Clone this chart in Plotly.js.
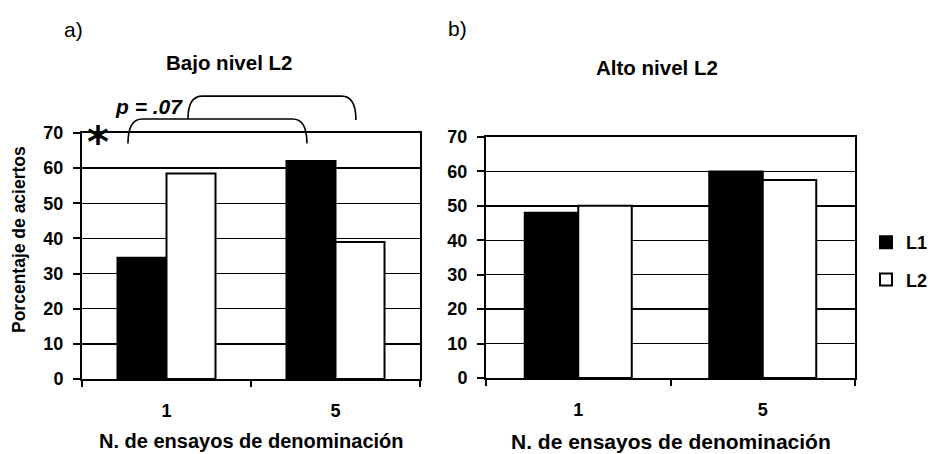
<!DOCTYPE html>
<html>
<head>
<meta charset="utf-8">
<script src="https://cdn.plot.ly/plotly-3.0.1.min.js"></script>
<style>
  html, body { margin: 0; padding: 0; background: #fff; }
  #chart { width: 930px; height: 454px; }
</style>
</head>
<body>
<div id="chart"></div>
<script>
// Naming trials (x categories)
const trials = ['1', '5'];

// Percentage correct, low-L2-proficiency group (panel a)
const lowL1 = [34.5, 62];
const lowL2 = [58.5, 39];

// Percentage correct, high-L2-proficiency group (panel b)
const highL1 = [48, 60];
const highL2 = [50, 57.5];

const seriesNames = ['L1', 'L2'];
const yTicks = [0, 10, 20, 30, 40, 50, 60, 70];

// Significance brackets over panel a: [x start, x end, y low start, y top, y low end]
const brackets = [
  [-0.228, 0.831, 67, 74, 67],
  [0.127, 1.121, 74, 80.5, 73.7]
];

const FONT = 'Liberation Sans, Arial, sans-serif';
const xIdx = trials.map((_, i) => i);
const yMax = yTicks[yTicks.length - 1];

function barTrace(vals, name, xa, ya, filled, show) {
  return {
    type: 'bar', x: xIdx, y: vals, name: name,
    xaxis: xa, yaxis: ya, showlegend: show,
    legendgroup: name,
    marker: { color: filled ? '#000' : '#fff', line: { color: '#000', width: 2 } },
    hoverinfo: 'y'
  };
}

const data = [
  barTrace(lowL1, seriesNames[0], 'x', 'y', true, true),
  barTrace(lowL2, seriesNames[1], 'x', 'y', false, true),
  barTrace(highL1, seriesNames[0], 'x2', 'y2', true, false),
  barTrace(highL2, seriesNames[1], 'x2', 'y2', false, false)
];

const tickFont = { family: FONT, size: 18, color: '#000', weight: 'bold' };

function xAxis(domain, anchor) {
  return {
    domain: domain, anchor: anchor,
    range: [-0.5, trials.length - 0.5],
    tickmode: 'array', tickvals: xIdx, ticktext: trials,
    ticks: '', ticklabelstandoff: 14,
    minor: { tickmode: 'linear', tick0: -0.5, dtick: 1, ticks: 'outside', ticklen: 6, tickwidth: 2, tickcolor: '#000', showgrid: false },
    showline: true, linewidth: 2, linecolor: '#000', mirror: true,
    showgrid: false, zeroline: false, fixedrange: true,
    tickfont: tickFont
  };
}
function yAxis(domain, anchor) {
  return {
    domain: domain, anchor: anchor,
    range: [0, yMax],
    tickmode: 'array', tickvals: yTicks,
    ticks: 'outside', ticklen: 7, tickwidth: 2, tickcolor: '#000',
    ticklabelstandoff: 6,
    showline: true, linewidth: 2, linecolor: '#000', mirror: true,
    showgrid: true, gridcolor: '#000', gridwidth: 1.5,
    zeroline: false, fixedrange: true,
    tickfont: tickFont
  };
}

// Value on the y scale -> fraction of the y axis domain
const yFrac = v => v / yMax;

function bracketPath(b) {
  const [x0, x1, y0, yt, y1] = b;
  const r = 0.085;
  const d = v => yFrac(v).toFixed(4);
  return `M ${x0},${d(y0)} Q ${x0},${d(yt)} ${x0 + r},${d(yt)} L ${x1 - r},${d(yt)} Q ${x1},${d(yt)} ${x1},${d(y1)}`;
}

const shapes = brackets.map(b => ({
  type: 'path', xref: 'x', yref: 'y domain', path: bracketPath(b),
  line: { color: '#000', width: 1.6 }, fillcolor: 'rgba(0,0,0,0)'
}));

const panelFont = { family: FONT, size: 20.5, color: '#000', weight: 'bold' };

function paperText(text, px, py, font, extra) {
  return Object.assign({
    text: text, xref: 'paper', yref: 'paper', x: px / 930, y: 1 - py / 454,
    xanchor: 'center', yanchor: 'middle', showarrow: false, font: font
  }, extra || {});
}

const annotations = [
  paperText('a)', 73, 30, { family: FONT, size: 21, color: '#000' }),
  paperText('b)', 457, 28, { family: FONT, size: 21, color: '#000' }),
  paperText('Bajo nivel L2', 229, 63, panelFont),
  paperText('Alto nivel L2', 657, 67, panelFont),
  paperText('Porcentaje de aciertos', 19, 240, { family: FONT, size: 17.5, color: '#000', weight: 'bold' }, { textangle: -90 }),
  paperText('N. de ensayos de denominación', 251, 441, { family: FONT, size: 20, color: '#000', weight: 'bold' }),
  paperText('N. de ensayos de denominación', 671, 441, { family: FONT, size: 21, color: '#000', weight: 'bold' }),
  { text: 'p = .07', xref: 'x', yref: 'y domain', x: 0.109, y: yFrac(77.6), xanchor: 'right', yanchor: 'middle', showarrow: false,
    font: { family: FONT, size: 21, color: '#000', weight: 'bold', style: 'italic' } },
  { text: '*', xref: 'x', yref: 'y domain', x: -0.405, y: yFrac(67.4), xanchor: 'center', yanchor: 'middle', showarrow: false,
    font: { family: 'DejaVu Sans', size: 42, color: '#000', weight: 'bold' } }
];

const layout = {
  width: 930, height: 454,
  margin: { l: 0, r: 0, t: 0, b: 0, autoexpand: false },
  paper_bgcolor: '#fff', plot_bgcolor: '#fff',
  barmode: 'group', bargap: 0.42, bargroupgap: 0,
  xaxis: xAxis([82 / 930, 420 / 930], 'y'),
  yaxis: yAxis([(454 - 379) / 454, (454 - 133) / 454], 'x'),
  xaxis2: xAxis([486 / 930, 855 / 930], 'y2'),
  yaxis2: yAxis([(454 - 378) / 454, (454 - 137) / 454], 'x2'),
  showlegend: true,
  legend: {
    x: 866 / 930, y: 1 - 224 / 454, xanchor: 'left', yanchor: 'top',
    traceorder: 'grouped', tracegroupgap: 11,
    font: { family: FONT, size: 18, color: '#000', weight: 'bold' },
    bgcolor: 'rgba(0,0,0,0)', borderwidth: 0
  },
  shapes: shapes,
  annotations: annotations
};

Plotly.newPlot('chart', data, layout, { displayModeBar: false, staticPlot: true });
</script>
</body>
</html>
